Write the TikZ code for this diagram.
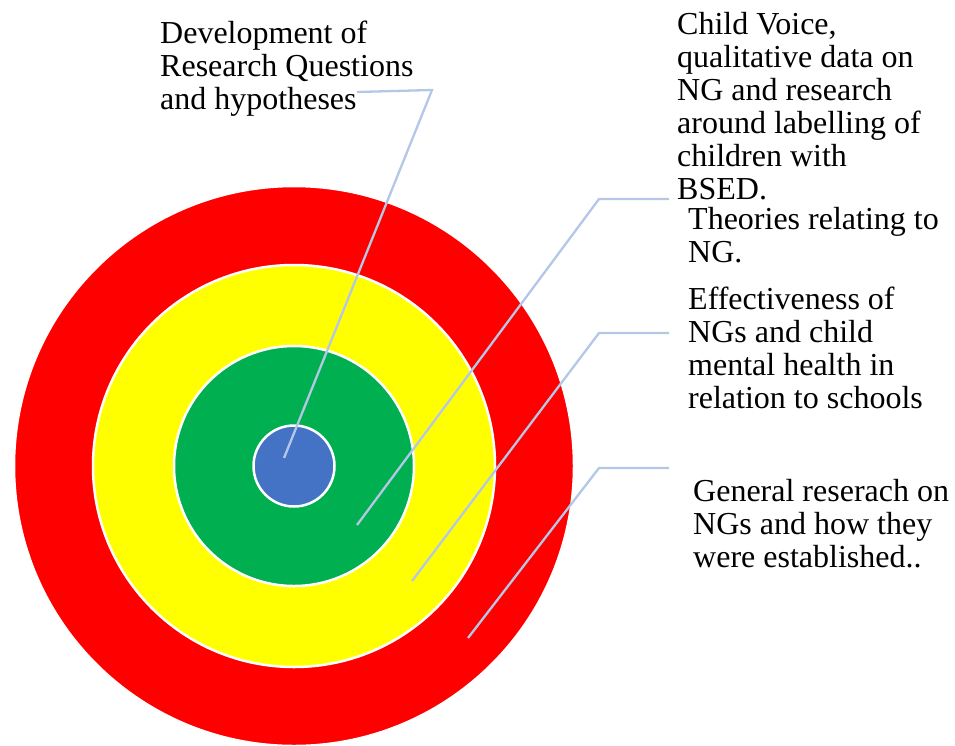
\documentclass[tikz,border=0pt]{standalone}
\usepackage{fontspec}
\setmainfont{Liberation Serif}
\definecolor{ringred}{HTML}{FF0000}
\definecolor{ringyellow}{HTML}{FFFF00}
\definecolor{ringgreen}{HTML}{00B050}
\definecolor{ringblue}{HTML}{4472C4}
\definecolor{leadc}{HTML}{B4C7E7}
\begin{document}
\begin{tikzpicture}[x=1pt,y=-1pt,
  ring/.style={draw=white,line width=2.5pt},
  lead/.style={draw=leadc,line width=2.3pt},
  lbl/.style={anchor=base west,align=left,inner sep=0pt,font=\fontsize{32}{33}\selectfont}]
\useasboundingbox (0,0) rectangle (955,745);
\begin{scope}
\clip (0,0) rectangle (955,745);
\filldraw[ring,fill=ringred] (294,466) circle[radius=280pt];
\filldraw[ring,fill=ringyellow] (294,466) circle[radius=201pt];
\filldraw[ring,fill=ringgreen] (294,466) circle[radius=120pt];
\filldraw[ring,fill=ringblue] (294,466) circle[radius=40.5pt];
\end{scope}

% anchor is at the baseline of the last line
\node[lbl] (t1) at (160,109) {Development of\\Research Questions\\and hypotheses};
\node[lbl] (t2) at (677,199) {Child Voice,\\qualitative data on\\NG and research\\around labelling of\\children with\\BSED.};
\node[lbl] (t3) at (688,262) {Theories relating to\\NG.};
\node[lbl] (t4) at (688,408) {Effectiveness of\\NGs and child\\mental health in\\relation to schools};
\node[lbl] (t5) at (693,567) {General reserach on\\NGs and how they\\were established..};

\coordinate (p1) at (284,458);
\coordinate (k1) at (432,90);
\coordinate (e1) at (357,92);
\coordinate (p2) at (357,525);
\coordinate (k2) at (599,199);
\coordinate (e2) at (669,199);
\coordinate (p3) at (412,581);
\coordinate (k3) at (599,333);
\coordinate (e3) at (669,333);
\coordinate (p4) at (468,638);
\coordinate (k4) at (599,468);
\coordinate (e4) at (669,468);

\draw[lead] (p1) -- (k1) -- (e1);
\draw[lead] (p2) -- (k2) -- (e2);
\draw[lead] (p3) -- (k3) -- (e3);
\draw[lead] (p4) -- (k4) -- (e4);
\end{tikzpicture}
\end{document}
